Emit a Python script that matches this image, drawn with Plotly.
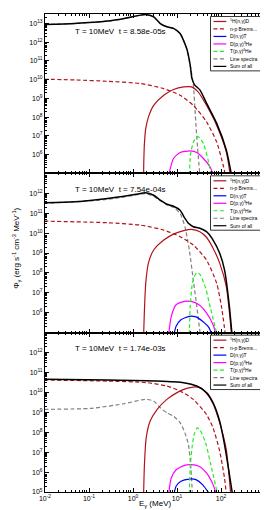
import plotly.graph_objects as go
from plotly.subplots import make_subplots

W, H = 268, 510
ML, MR, MT, MB = 37, 9, 5, 26

# ---------------- data: log10(E / MeV) and log10(Phi) ----------------
series_names = ["<sup>1</sup>H(n,γ)D", "n-p Brems...", "D(n,γ)T", "D(p,γ)<sup>3</sup>He",
                "T(p,γ)<sup>4</sup>He", "Line spectra", "Sum of all"]
series_colors = ["#b3121b", "#b3121b", "#0000ff", "#ff00ff", "#22ee22", "#808080", "#000000"]
series_dash = ["solid", "4px,2.5px", "solid", "solid", "4px,2.5px", "4px,2.5px", "solid"]

panel_titles = ["T = 10MeV  t = 8.58e-05s", "T = 10MeV  t = 7.54e-04s", "T = 10MeV  t = 1.74e-03s"]
panel_yranges = [[5, 13.5], [5, 13], [5, 13]]
panel_ytickexp = [[6, 7, 8, 9, 10, 11, 12, 13], [6, 7, 8, 9, 10, 11, 12], [5, 6, 7, 8, 9, 10, 11, 12]]
x_tickexp = [-2, -1, 0, 1, 2, 3]

# panel 1
p1_hnd_x = [0.24, 0.245, 0.26, 0.29, 0.35, 0.47, 0.70, 0.92, 1.15, 1.33, 1.48, 1.67, 1.90, 2.12, 2.21]
p1_hnd_y = [4.8, 5.6, 6.6, 7.4, 8.0, 8.63, 9.17, 9.47, 9.61, 9.61, 9.35, 8.63, 7.57, 6.15, 4.9]
p1_brems_x = [-2.02, -1.3, -0.58, 0.17, 0.70, 1.07, 1.37, 1.67, 1.90, 2.05, 2.10]
p1_brems_y = [10.02, 9.98, 9.91, 9.79, 9.52, 9.17, 8.63, 7.75, 6.68, 5.43, 4.9]
p1_dnt_x = []
p1_dnt_y = []
p1_dpg_x = [0.81, 0.92, 1.07, 1.30, 1.45, 1.60, 1.75, 1.83]
p1_dpg_y = [4.9, 5.79, 6.11, 6.2, 6.11, 5.79, 5.35, 4.9]
p1_tpg_x = [1.28, 1.31, 1.38, 1.48, 1.60, 1.71, 1.77]
p1_tpg_y = [4.9, 6.06, 6.7, 6.96, 6.59, 5.68, 4.9]
p1_line_x = [-2.02, -1.33, -0.58, -0.2, 0.17, 0.28, 0.47, 0.62, 0.77, 0.92, 1.07, 1.22, 1.30, 1.37, 1.43, 1.48, 1.52]
p1_line_y = [12.94, 12.99, 13.12, 13.26, 13.44, 13.47, 13.35, 12.99, 12.82, 12.73, 12.46, 11.66, 10.77, 9.75, 7.6, 6.0, 4.9]
p1_sum_x = [-2.02, -1.33, -0.58, -0.2, 0.17, 0.28, 0.47, 0.62, 0.77, 0.92, 1.07, 1.22, 1.30, 1.34, 1.40, 1.52, 1.67, 1.90, 2.12, 2.24]
p1_sum_y = [12.94, 12.99, 13.12, 13.26, 13.44, 13.47, 13.35, 12.99, 12.82, 12.73, 12.46, 11.66, 10.77, 10.05, 9.72, 9.45, 8.75, 7.68, 6.25, 4.9]

# panel 2
p2_hnd_x = [0.24, 0.26, 0.29, 0.35, 0.47, 0.70, 0.92, 1.15, 1.33, 1.52, 1.67, 1.82, 1.97, 2.12, 2.24]
p2_hnd_y = [4.8, 6.15, 7.49, 8.49, 9.15, 9.65, 9.95, 10.12, 10.19, 10.07, 9.79, 9.24, 8.49, 7.32, 4.9]
p2_brems_x = [-2.02, -0.58, 0.17, 0.70, 1.07, 1.37, 1.67, 1.90, 2.01, 2.10]
p2_brems_y = [10.60, 10.52, 10.40, 10.15, 9.82, 9.40, 8.65, 7.49, 6.32, 4.9]
p2_dnt_x = [0.93, 0.98, 1.09, 1.28, 1.43, 1.58, 1.73, 1.79]
p2_dnt_y = [4.9, 5.32, 5.65, 5.82, 5.79, 5.57, 5.24, 4.9]
p2_dpg_x = [0.81, 0.87, 0.98, 1.17, 1.32, 1.50, 1.67, 1.82, 1.89]
p2_dpg_y = [4.9, 5.82, 6.40, 6.57, 6.57, 6.40, 5.99, 5.40, 4.9]
p2_tpg_x = [1.28, 1.30, 1.34, 1.39, 1.46, 1.53, 1.65, 1.76, 1.91]
p2_tpg_y = [4.9, 6.32, 7.32, 7.82, 8.02, 7.90, 7.24, 6.24, 4.9]
p2_line_x = [-2.02, -0.58, 0.17, 0.28, 0.47, 0.62, 0.77, 0.92, 1.07, 1.18, 1.28, 1.37, 1.45, 1.53]
p2_line_y = [11.49, 11.69, 11.95, 11.98, 11.85, 11.62, 11.42, 11.29, 10.99, 10.32, 9.15, 7.65, 6.32, 4.9]
p2_sum_x = [-2.02, -1.33, -0.58, -0.2, 0.17, 0.28, 0.47, 0.62, 0.77, 0.92, 1.07, 1.18, 1.26, 1.37, 1.52, 1.67, 1.82, 1.97, 2.08, 2.19, 2.25]
p2_sum_y = [11.52, 11.57, 11.74, 11.85, 11.99, 12.02, 11.90, 11.65, 11.45, 11.35, 11.15, 10.74, 10.49, 10.32, 10.24, 10.07, 9.65, 8.99, 8.15, 6.32, 4.9]

# panel 3
p3_hnd_x = [0.24, 0.26, 0.30, 0.39, 0.55, 0.77, 1.00, 1.22, 1.37, 1.52, 1.67, 1.82, 1.97, 2.12, 2.22]
p3_hnd_y = [4.8, 6.38, 7.72, 8.56, 9.15, 9.65, 9.99, 10.20, 10.27, 10.24, 9.96, 9.43, 8.47, 7.13, 4.9]
p3_brems_x = [-2.02, -0.58, 0.32, 0.77, 1.07, 1.37, 1.67, 1.82, 1.97, 2.08, 2.12]
p3_brems_y = [10.62, 10.57, 10.49, 10.32, 10.07, 9.65, 8.89, 8.22, 7.05, 5.70, 4.9]
p3_dnt_x = [0.93, 0.98, 1.09, 1.28, 1.43, 1.58, 1.74]
p3_dnt_y = [4.9, 5.29, 5.54, 5.65, 5.62, 5.37, 4.9]
p3_dpg_x = [0.81, 0.87, 0.98, 1.17, 1.32, 1.50, 1.67, 1.82, 1.89]
p3_dpg_y = [4.9, 5.70, 6.12, 6.34, 6.37, 6.29, 5.96, 5.37, 4.9]
p3_tpg_x = [1.28, 1.30, 1.34, 1.39, 1.46, 1.53, 1.65, 1.76, 1.92]
p3_tpg_y = [4.9, 6.21, 7.21, 7.89, 8.22, 8.09, 7.47, 6.46, 4.9]
p3_line_x = [-2.02, -0.96, -0.21, 0.28, 0.47, 0.62, 0.77, 0.92, 1.07, 1.18, 1.26, 1.31, 1.35]
p3_line_y = [9.15, 9.20, 9.43, 9.65, 9.57, 9.23, 8.98, 8.81, 8.48, 7.97, 7.38, 6.38, 4.9]
p3_sum_x = [-2.02, -0.58, 0.55, 1.15, 1.45, 1.67, 1.82, 1.97, 2.08, 2.18, 2.26]
p3_sum_y = [10.66, 10.62, 10.57, 10.49, 10.32, 9.99, 9.48, 8.56, 7.38, 6.04, 4.9]

panels = [
    [(p1_hnd_x, p1_hnd_y), (p1_brems_x, p1_brems_y), (p1_dnt_x, p1_dnt_y), (p1_dpg_x, p1_dpg_y),
     (p1_tpg_x, p1_tpg_y), (p1_line_x, p1_line_y), (p1_sum_x, p1_sum_y)],
    [(p2_hnd_x, p2_hnd_y), (p2_brems_x, p2_brems_y), (p2_dnt_x, p2_dnt_y), (p2_dpg_x, p2_dpg_y),
     (p2_tpg_x, p2_tpg_y), (p2_line_x, p2_line_y), (p2_sum_x, p2_sum_y)],
    [(p3_hnd_x, p3_hnd_y), (p3_brems_x, p3_brems_y), (p3_dnt_x, p3_dnt_y), (p3_dpg_x, p3_dpg_y),
     (p3_tpg_x, p3_tpg_y), (p3_line_x, p3_line_y), (p3_sum_x, p3_sum_y)],
]
draw_order = [5, 1, 0, 3, 2, 4, 6]

FONT = "Liberation Sans, Arial, Helvetica, sans-serif"
fig = make_subplots(rows=3, cols=1, vertical_spacing=0)

for r, series in enumerate(panels, start=1):
    for i in draw_order:
        xs, ys = series[i]
        fig.add_trace(go.Scatter(
            x=[10 ** v for v in xs], y=[10 ** v for v in ys], mode="lines",
            line=dict(color=series_colors[i], width=1.5 if i == 6 else 1.2, dash=series_dash[i],
                      shape="spline", smoothing=0.6),
            showlegend=False, hoverinfo="skip"), row=r, col=1)

minor_vals = [m * 10 ** k for k in range(-2, 14) for m in range(2, 10)]
plot_h = H - MT - MB
for r in range(3):
    ax = "" if r == 0 else str(r + 1)
    lo = 1 - (r + 1) / 3
    hi = 1 - r / 3
    fig.layout["yaxis" + ax].update(
        type="log", range=panel_yranges[r], domain=[lo, hi],
        tickvals=[10 ** e for e in panel_ytickexp[r]],
        ticktext=["10<sup>%d</sup>" % e for e in panel_ytickexp[r]],
        ticks="inside", ticklen=4, tickcolor="black", tickwidth=0.8,
        showline=True, linecolor="black", linewidth=1, mirror="ticks",
        showgrid=False, zeroline=False, tickfont=dict(family=FONT, size=7, color="black"),
        minor=dict(tickvals=minor_vals, ticks="inside", ticklen=2, tickcolor="black", showgrid=False))
    fig.layout["xaxis" + ax].update(
        type="log", range=[-2, 3],
        tickvals=[10 ** e for e in x_tickexp],
        ticktext=["10<sup>%d</sup>" % e for e in x_tickexp],
        showticklabels=(r == 2),
        ticks="inside", ticklen=4, tickcolor="black", tickwidth=0.8,
        showline=True, linecolor="black", linewidth=1, mirror="ticks",
        showgrid=False, zeroline=False, tickfont=dict(family=FONT, size=7, color="black"),
        minor=dict(tickvals=minor_vals, ticks="inside", ticklen=2, tickcolor="black", showgrid=False))


def px_x(px):
    return (px - ML) / (W - ML - MR)


def px_y(py):
    return (H - MB - py) / plot_h


shapes = []
annotations = []
for r in range(3):
    top = MT + r * plot_h / 3
    # panel title
    annotations.append(dict(text=panel_titles[r], x=px_x(113), y=px_y(top + 16 if r else top + 18),
                            xref="paper", yref="paper", showarrow=False, xanchor="center", yanchor="middle",
                            font=dict(family=FONT, size=8, color="black")))
    # legend box
    bx0, bx1 = 204, 258
    by0, by1 = top + 2.5, top + 57
    shapes.append(dict(type="rect", xref="paper", yref="paper", x0=px_x(bx0), x1=px_x(bx1),
                       y0=px_y(by1), y1=px_y(by0), line=dict(color="black", width=0.8),
                       fillcolor="white", layer="above"))
    for i, name in enumerate(series_names):
        yy = top + 7.5 + i * 7.5
        shapes.append(dict(type="line", xref="paper", yref="paper", x0=px_x(207), x1=px_x(220),
                           y0=px_y(yy), y1=px_y(yy), layer="above",
                           line=dict(color=series_colors[i], width=1.2, dash=series_dash[i])))
        annotations.append(dict(text=name, x=px_x(222), y=px_y(yy), xref="paper", yref="paper",
                                showarrow=False, xanchor="left", yanchor="middle",
                                font=dict(family=FONT, size=5, color="black")))

annotations.append(dict(text="Φ<sub>γ</sub> (erg s<sup>-1</sup> cm<sup>-3</sup> MeV<sup>-1</sup>)",
                        x=px_x(8), y=px_y(240), xref="paper", yref="paper", textangle=-90,
                        showarrow=False, xanchor="center", yanchor="middle",
                        font=dict(family=FONT, size=8, color="black")))
annotations.append(dict(text="E<sub>γ</sub> (MeV)", x=px_x(148), y=px_y(496), xref="paper", yref="paper",
                        showarrow=False, xanchor="center", yanchor="middle",
                        font=dict(family=FONT, size=8, color="black")))

fig.update_layout(width=W, height=H, margin=dict(l=ML, r=MR, t=MT, b=MB, pad=0),
                  paper_bgcolor="white", plot_bgcolor="white", showlegend=False,
                  shapes=shapes, annotations=annotations, font=dict(family=FONT))

fig.write_html("out.html")
